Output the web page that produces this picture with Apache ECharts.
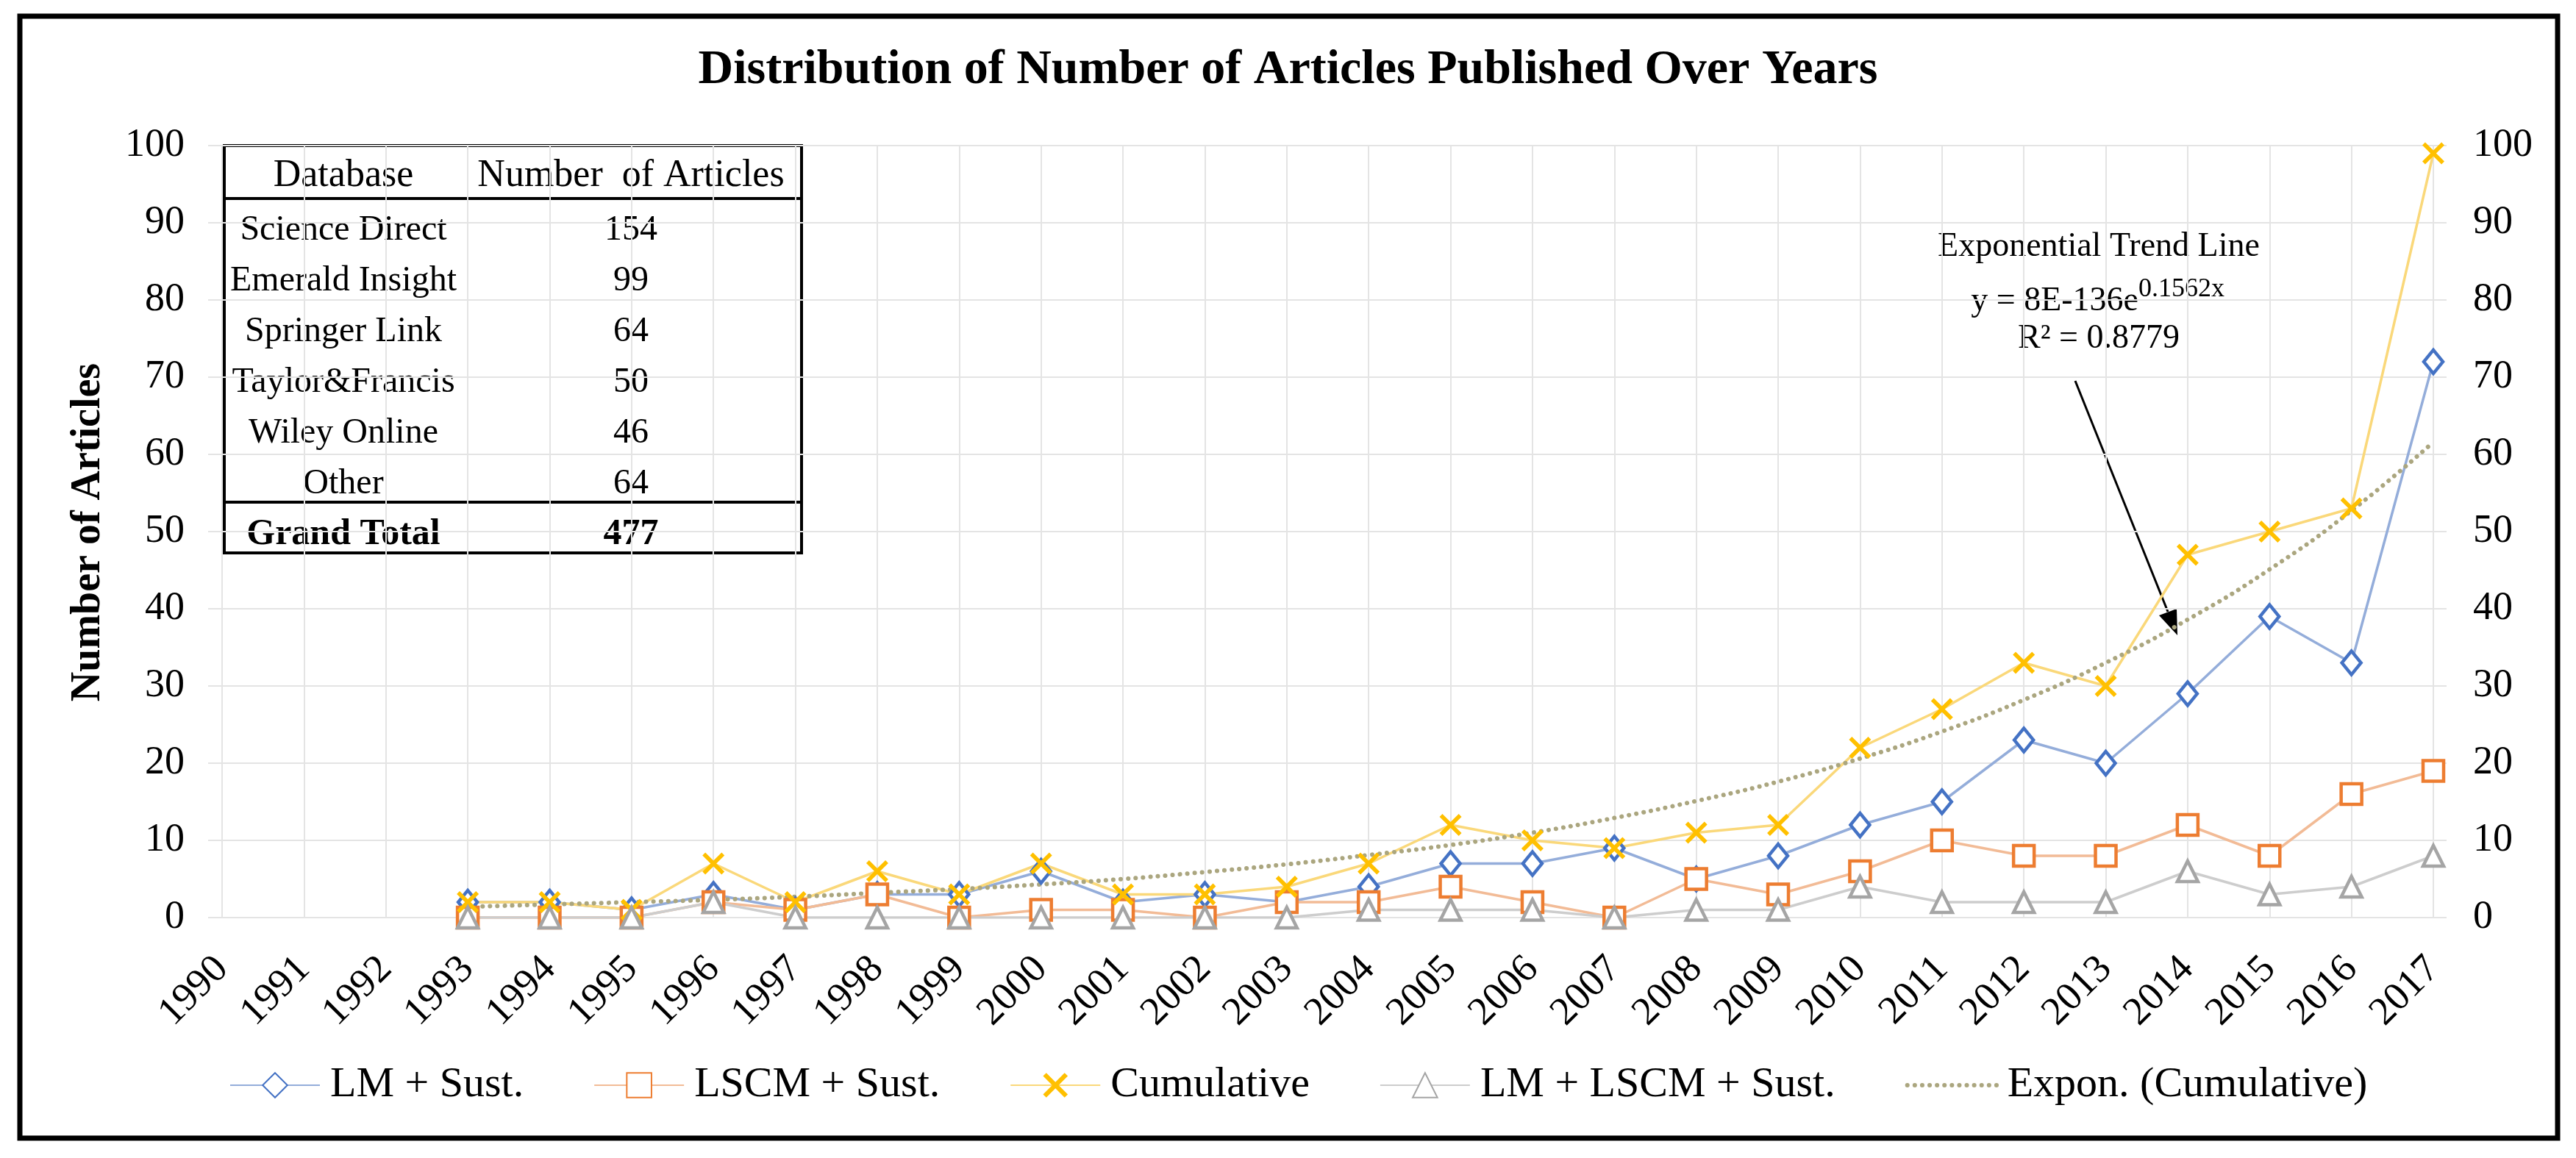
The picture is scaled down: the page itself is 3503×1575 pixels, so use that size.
<!DOCTYPE html>
<html>
<head>
<meta charset="utf-8">
<title>Distribution of Number of Articles Published Over Years</title>
<script src="https://cdn.jsdelivr.net/npm/echarts@6/dist/echarts.min.js"></script>
<style>
  html, body { margin: 0; padding: 0; background: #fff; }
  #chart { width: 3503px; height: 1575px; }
</style>
</head>
<body>
<div id="chart"></div>
<script>
// categories
var years = ['1990', '1991', '1992', '1993', '1994', '1995', '1996', '1997', '1998', '1999',
  '2000', '2001', '2002', '2003', '2004', '2005', '2006', '2007', '2008', '2009',
  '2010', '2011', '2012', '2013', '2014', '2015', '2016', '2017'];

// series values
var lmSust = [null, null, null, 2, 2, 1, 3, 1, 3, 3, 6, 2, 3, 2, 4, 7, 7, 9, 5, 8, 12, 15, 23, 20, 29, 39, 33, 72];
var lscmSust = [null, null, null, 0, 0, 0, 2, 1, 3, 0, 1, 1, 0, 2, 2, 4, 2, 0, 5, 3, 6, 10, 8, 8, 12, 8, 16, 19];
var cumulative = [null, null, null, 2, 2, 1, 7, 2, 6, 3, 7, 3, 3, 4, 7, 12, 10, 9, 11, 12, 22, 27, 33, 30, 47, 50, 53, 99];
var lmLscmSust = [null, null, null, 0, 0, 0, 2, 0, 0, 0, 0, 0, 0, 0, 1, 1, 1, 0, 1, 1, 4, 2, 2, 2, 6, 3, 4, 8];
// dotted exponential trend line, estimated at each year
var expTrend = [null, null, null, 1.4, 1.7, 2.0, 2.3, 2.7, 3.2, 3.7, 4.3, 5.0, 5.9, 6.9, 8.1, 9.4, 11.0,
  12.9, 15.1, 17.6, 20.6, 24.1, 28.2, 33.0, 38.6, 45.1, 52.7, 61.6];

// y axis
var yMin = 0, yMax = 100, yStep = 10;

// inset table
var dbNames = ['Science Direct', 'Emerald Insight', 'Springer Link', 'Taylor&Francis', 'Wiley Online', 'Other'];
var dbCounts = [154, 99, 64, 50, 46, 64];
var dbTotal = 477;

var FONT = '"Liberation Serif", "Times New Roman", serif';
var chart = echarts.init(document.getElementById('chart'));

// table + annotation drawn with graphic elements
var graphics = [];
// outer frame of the picture
graphics.push({ type: 'rect', shape: { x: 27, y: 22, width: 3451, height: 1526 },
  style: { fill: 'none', stroke: '#000', lineWidth: 7 } });
// y axis title
graphics.push({ type: 'text', x: 121, y: 724, rotation: Math.PI / 2,
  style: { text: 'Number of Articles', font: 'bold 56px ' + FONT, fill: '#000', align: 'center', verticalAlign: 'middle' } });

// the table
var tL = 305, tR = 1090, tT = 198, tB = 752;
var colA = 467, colB = 858;
graphics.push({ type: 'rect', shape: { x: tL, y: tT, width: tR - tL, height: tB - tT },
  style: { fill: 'none', stroke: '#000', lineWidth: 4 } });
graphics.push({ type: 'line', shape: { x1: tL, y1: 270, x2: tR, y2: 270 }, style: { stroke: '#000', lineWidth: 4 } });
graphics.push({ type: 'line', shape: { x1: tL, y1: 683, x2: tR, y2: 683 }, style: { stroke: '#000', lineWidth: 4 } });
function cell(txt, x, y, bold, size) {
  graphics.push({ type: 'text', x: x, y: y,
    style: { text: txt, font: (bold ? 'bold ' : '') + size + 'px ' + FONT, fill: '#000', align: 'center', verticalAlign: 'middle' } });
}
cell('Database', colA, 239, false, 52);
cell('Number  of Articles', colB, 239, false, 52);
for (var i = 0; i < dbNames.length; i++) {
  cell(dbNames[i], colA, 313 + i * 69, false, 48);
  cell(String(dbCounts[i]), colB, 313 + i * 69, false, 48);
}
cell('Grand Total', colA, 727, true, 50);
cell(String(dbTotal), colB, 727, true, 50);

// trend annotation
var annX = 2854;
graphics.push({ type: 'text', x: annX, y: 336,
  style: { text: 'Exponential Trend Line', font: '46px ' + FONT, fill: '#000', align: 'center', verticalAlign: 'middle' } });
graphics.push({ type: 'text', x: 2908, y: 410,
  style: { text: 'y = 8E-136e', font: '46px ' + FONT, fill: '#000', align: 'right', verticalAlign: 'middle' } });
graphics.push({ type: 'text', x: 2908, y: 394,
  style: { text: '0.1562x', font: '36px ' + FONT, fill: '#000', align: 'left', verticalAlign: 'middle' } });
graphics.push({ type: 'text', x: annX, y: 461,
  style: { text: 'R² = 0.8779', font: '46px ' + FONT, fill: '#000', align: 'center', verticalAlign: 'middle' } });
// arrow
graphics.push({ type: 'line', shape: { x1: 2822, y1: 518, x2: 2948, y2: 832 }, style: { stroke: '#000', lineWidth: 3 } });
graphics.push({ type: 'polygon', shape: { points: [[2961, 864], [2936, 837], [2960, 828]] }, style: { fill: '#000' } });

var xMark = 'path://M0,1.3 L1.3,0 L5,3.7 L8.7,0 L10,1.3 L6.3,5 L10,8.7 L8.7,10 L5,6.3 L1.3,10 L0,8.7 L3.7,5 Z';
var trendDots = { color: '#ABA67F', width: 6, type: [0.1, 10], cap: 'round' };

function lineSeries(name, data, symbol, size, markColor, lineColor, hollow) {
  return {
    name: name,
    type: 'line',
    xAxisIndex: 0,
    yAxisIndex: 0,
    data: data,
    symbol: symbol,
    symbolSize: size,
    showAllSymbol: true,
    connectNulls: false,
    lineStyle: { color: lineColor, width: 3.5 },
    itemStyle: hollow ? { color: '#fff', borderColor: markColor, borderWidth: 4.5 } : { color: markColor, borderWidth: 0 },
    emphasis: { disabled: true }
  };
}

var option = {
  backgroundColor: '#fff',
  animation: false,
  title: {
    text: 'Distribution of Number of Articles Published Over Years',
    left: 'center',
    top: 58,
    textStyle: { fontFamily: FONT, fontWeight: 'bold', fontSize: 66, color: '#000' }
  },
  legend: {
    top: 1442,
    left: 307,
    itemWidth: 122,
    itemHeight: 42,
    itemGap: 95,
    textStyle: { fontFamily: FONT, fontSize: 58, color: '#000', padding: [0, 0, 0, 9] },
    data: ['LM + Sust.', 'LSCM + Sust.', 'Cumulative', 'LM + LSCM + Sust.',
      { name: 'Expon. (Cumulative)', itemStyle: { opacity: 0 }, lineStyle: trendDots }]
  },
  grid: [
    // grid for the data, first and last year on the edges
    { left: 302, right: 194, top: 198, bottom: 327 },
    // a little wider grid for horizontal gridlines and y labels
    { left: 283, right: 176, top: 198, bottom: 327 }
  ],
  xAxis: [{
    type: 'category',
    gridIndex: 0,
    data: years,
    boundaryGap: false,
    axisLine: { show: false },
    axisTick: { show: false },
    splitLine: { show: true, lineStyle: { color: '#E4E4E4', width: 2 } },
    axisLabel: { rotate: 45, margin: 62, fontFamily: FONT, fontSize: 54, color: '#000', interval: 0 }
  }, {
    type: 'value',
    gridIndex: 1,
    show: false
  }],
  yAxis: [{
    type: 'value',
    gridIndex: 0,
    min: yMin, max: yMax, interval: yStep,
    show: false
  }, {
    type: 'value',
    gridIndex: 1,
    position: 'left',
    min: yMin, max: yMax, interval: yStep,
    axisLine: { show: false },
    axisTick: { show: false },
    splitLine: { show: true, lineStyle: { color: '#E4E4E4', width: 2 } },
    axisLabel: { margin: 32, fontFamily: FONT, fontSize: 54, color: '#000' }
  }, {
    type: 'value',
    gridIndex: 1,
    position: 'right',
    min: yMin, max: yMax, interval: yStep,
    axisLine: { show: false },
    axisTick: { show: false },
    splitLine: { show: false },
    axisLabel: { margin: 36, fontFamily: FONT, fontSize: 54, color: '#000' }
  }],
  series: [
    lineSeries('LM + Sust.', lmSust, 'diamond', [26, 32], '#4472C4', '#94ADDA', true),
    lineSeries('LSCM + Sust.', lscmSust, 'rect', 28, '#ED7D31', '#F2BB96', true),
    lineSeries('Cumulative', cumulative, xMark, 30, '#FFC000', '#FAD87A', false),
    lineSeries('LM + LSCM + Sust.', lmLscmSust, 'triangle', 28, '#A5A5A5', '#CDCDCD', true),
    {
      name: 'Expon. (Cumulative)',
      type: 'line',
      xAxisIndex: 0,
      yAxisIndex: 0,
      data: expTrend,
      smooth: true,
      symbol: 'none',
      lineStyle: trendDots,
      itemStyle: { color: '#ABA67F' },
      emphasis: { disabled: true }
    }
  ],
  graphic: graphics
};

chart.setOption(option);
</script>
</body>
</html>
